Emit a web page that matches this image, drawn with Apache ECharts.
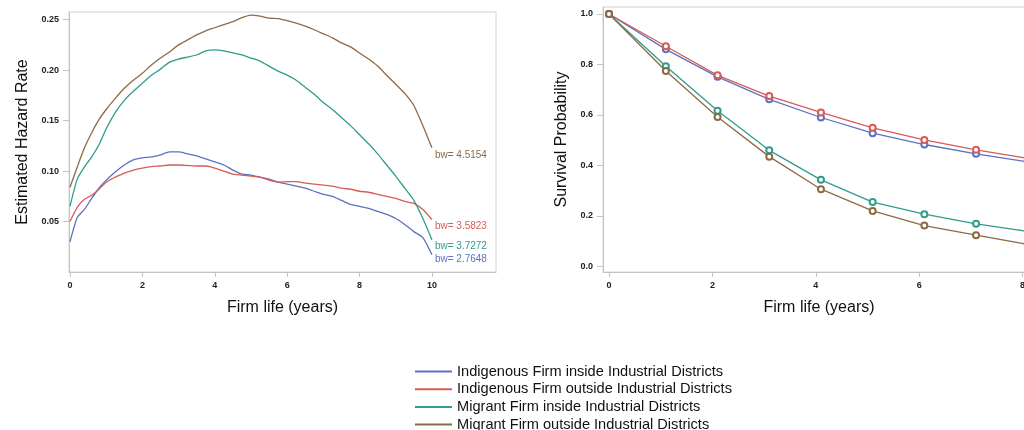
<!DOCTYPE html>
<html>
<head>
<meta charset="utf-8">
<script src="https://cdn.jsdelivr.net/npm/echarts@6/dist/echarts.min.js"></script>
<style>
html,body{margin:0;padding:0;overflow:hidden;background:#fff;}
#chart{width:1060px;height:470px;}
</style>
</head>
<body>
<div id="chart"></div>
<script>
// ---- data ----
const seriesNames = [
  'Indigenous Firm inside Industrial Districts',
  'Indigenous Firm outside Industrial Districts',
  'Migrant Firm inside Industrial Districts',
  'Migrant Firm outside Industrial Districts'
];
const bandwidths = ['2.7648', '3.5823', '3.7272', '4.5154'];

const hazardX = [0,0.2,0.4,0.6,0.8,1.0,1.25,1.5,1.75,2.0,2.25,2.5,2.75,3.0,3.25,3.5,3.75,4.0,4.25,4.5,4.75,5.0,5.25,5.5,5.75,6.0,6.25,6.5,6.75,7.0,7.25,7.5,7.75,8.0,8.25,8.5,8.75,9.0,9.25,9.5,9.75,10];
const hazardIndigInside = [0.030,0.054,0.062,0.073,0.083,0.091,0.099,0.106,0.111,0.113,0.114,0.116,0.119,0.119,0.117,0.115,0.112,0.109,0.106,0.101,0.097,0.096,0.094,0.092,0.089,0.087,0.085,0.083,0.080,0.077,0.075,0.071,0.067,0.065,0.063,0.060,0.057,0.053,0.047,0.040,0.034,0.017];
const hazardIndigOutside = [0.050,0.064,0.072,0.076,0.082,0.089,0.094,0.098,0.101,0.103,0.1045,0.105,0.106,0.106,0.1055,0.105,0.105,0.103,0.100,0.097,0.096,0.095,0.094,0.091,0.089,0.0895,0.0895,0.088,0.087,0.086,0.085,0.083,0.082,0.080,0.079,0.077,0.075,0.073,0.070,0.068,0.062,0.052];
const hazardMigrInside = [0.065,0.092,0.104,0.114,0.126,0.142,0.158,0.170,0.179,0.187,0.195,0.201,0.208,0.211,0.213,0.215,0.219,0.220,0.219,0.217,0.215,0.212,0.209,0.204,0.199,0.195,0.190,0.183,0.176,0.168,0.161,0.153,0.145,0.136,0.127,0.117,0.106,0.095,0.083,0.071,0.053,0.032];
const hazardMigrOutside = [0.084,0.104,0.123,0.138,0.151,0.161,0.172,0.182,0.190,0.197,0.205,0.212,0.218,0.225,0.230,0.235,0.239,0.242,0.245,0.248,0.252,0.2545,0.2535,0.2515,0.251,0.249,0.2465,0.2435,0.240,0.236,0.232,0.227,0.223,0.217,0.211,0.204,0.195,0.186,0.177,0.165,0.145,0.123];

const survX = [0,1.1,2.1,3.1,4.1,5.1,6.1,7.1,8.1];
const survIndigInside = [1.0,0.860,0.751,0.662,0.590,0.528,0.483,0.446,0.414];
const survIndigOutside = [1.0,0.872,0.757,0.675,0.610,0.549,0.501,0.462,0.428];
const survMigrInside = [1.0,0.793,0.617,0.460,0.343,0.255,0.207,0.169,0.139];
const survMigrOutside = [1.0,0.774,0.592,0.435,0.306,0.220,0.162,0.124,0.087];

const hazardYTicks = [0.05,0.10,0.15,0.20,0.25];
const survYTicks = [0.0,0.2,0.4,0.6,0.8,1.0];
const hazardXTicks = [0,2,4,6,8,10];
const survXTicks = [0,2,4,6,8];

// ---- styling ----
const colors = ['#5d70c2', '#d65c57', '#2f9c8c', '#8d6a46'];
const FONT = '"Liberation Sans", Arial, sans-serif';
const axisGrey = '#c4c4c4';

function zip(xs, ys){ return xs.map((x,i)=>[x, ys[i]]); }

const hazardSets = [hazardIndigInside, hazardIndigOutside, hazardMigrInside, hazardMigrOutside];
const survSets = [survIndigInside, survIndigOutside, survMigrInside, survMigrOutside];
const bwOffsets = [[-5,4],[-5,7],[-5,7],[-5,7]];

function xAxisCfg(gridIndex, min, max, ticks){
  return {
    type:'value', gridIndex, min, max,
    splitLine:{show:false},
    axisLine:{show:true, onZero:false, lineStyle:{color:axisGrey, width:1}},
    axisTick:{show:true, length:5, customValues:ticks, lineStyle:{color:axisGrey}},
    axisLabel:{customValues:ticks, margin:9, fontFamily:FONT, fontWeight:'bold', fontSize:9, color:'#222'},
    name:'Firm life (years)', nameLocation:'middle', nameGap:28,
    nameTextStyle:{fontFamily:FONT, fontSize:16, color:'#111'}
  };
}
function yAxisCfg(gridIndex, min, max, ticks, digits, name, gap){
  return {
    type:'value', gridIndex, min, max,
    splitLine:{show:false},
    axisLine:{show:true, onZero:false, lineStyle:{color:axisGrey, width:1}},
    axisTick:{show:true, length:6, customValues:ticks, lineStyle:{color:axisGrey}},
    axisLabel:{customValues:ticks, margin:10, formatter:v=>Number(v).toFixed(digits), fontFamily:FONT, fontWeight:'bold', fontSize:9, color:'#222'},
    name, nameLocation:'middle', nameGap:gap,
    nameTextStyle:{fontFamily:FONT, fontSize:16, color:'#111'}
  };
}

const series = [];
hazardSets.forEach((d,i)=>{
  series.push({
    type:'line', name:seriesNames[i], xAxisIndex:0, yAxisIndex:0,
    data:zip(hazardX,d), showSymbol:false, symbol:'none', smooth:0.2,
    lineStyle:{color:colors[i], width:1.3}, itemStyle:{color:colors[i]},
    endLabel:{show:true, formatter:'bw= '+bandwidths[i], color:colors[i], fontFamily:FONT, fontSize:10, offset:bwOffsets[i]},
    animation:false
  });
});
survSets.forEach((d,i)=>{
  series.push({
    type:'line', name:seriesNames[i], xAxisIndex:1, yAxisIndex:1,
    data:zip(survX,d), symbol:'emptyCircle', symbolSize:6, showSymbol:true,
    lineStyle:{color:colors[i], width:1.3}, itemStyle:{color:colors[i], borderColor:colors[i], borderWidth:1},
    animation:false
  });
});

const chart = echarts.init(document.getElementById('chart'), null, {renderer:'canvas'});
chart.setOption({
  backgroundColor:'#fff',
  animation:false,
  grid:[
    {left:69, top:12, width:427, height:260, show:true, borderColor:'#d2d2d2', borderWidth:1, backgroundColor:'transparent'},
    {left:603, top:7, width:432, height:265, show:true, borderColor:'#d2d2d2', borderWidth:1, backgroundColor:'transparent'}
  ],
  xAxis:[ xAxisCfg(0,-0.0276,11.77,hazardXTicks), xAxisCfg(1,-0.116,8.24,survXTicks) ],
  yAxis:[
    yAxisCfg(0,0,0.2576,hazardYTicks,2,'Estimated Hazard Rate',38),
    yAxisCfg(1,-0.022,1.0277,survYTicks,1,'Survival Probability',33)
  ],
  legend:{
    orient:'vertical', left:415, top:364, padding:0, icon:'rect', itemWidth:37, itemHeight:2, itemGap:2.7,
    data:seriesNames,
    textStyle:{fontFamily:FONT, fontSize:14.6, lineHeight:15, color:'#111'},
    selectedMode:false
  },
  series
});
</script>
</body>
</html>
